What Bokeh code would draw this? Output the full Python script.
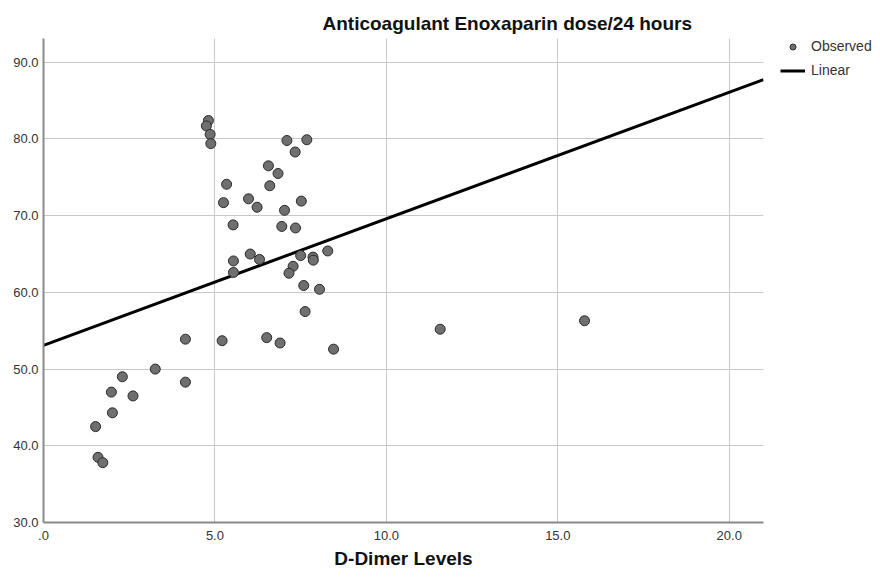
from bokeh.plotting import figure
from bokeh.models import Legend, LegendItem, Range1d, FixedTicker
from bokeh.layouts import row
from bokeh.embed import file_html
from bokeh.resources import INLINE

# ---- data ----
d_dimer = [4.81, 4.75, 4.86, 4.88, 7.10, 7.68, 7.34, 6.56, 6.84, 6.60,
           5.34, 5.25, 5.98, 6.23, 7.03, 7.52, 5.53, 6.95, 7.35,
           5.54, 6.03, 6.30, 5.54, 7.50, 7.86, 7.87, 8.29, 7.28, 7.16,
           7.59, 8.05, 7.63, 5.21, 6.51, 6.90, 8.46,
           4.14, 3.26, 4.14, 2.30, 1.98, 2.61, 2.01, 1.52, 1.59, 1.73,
           11.57, 15.78]
enox_dose = [82.4, 81.7, 80.6, 79.4, 79.8, 79.9, 78.3, 76.5, 75.5, 73.9,
             74.1, 71.7, 72.2, 71.1, 70.7, 71.9, 68.8, 68.6, 68.4,
             64.1, 65.0, 64.3, 62.6, 64.8, 64.6, 64.2, 65.4, 63.4, 62.5,
             60.9, 60.4, 57.5, 53.7, 54.1, 53.4, 52.6,
             53.9, 50.0, 48.3, 49.0, 47.0, 46.5, 44.3, 42.5, 38.5, 37.8,
             55.2, 56.3]

fit_intercept = 53.1
fit_slope = 1.65
fit_x = [0.0, 21.0]
fit_y = [fit_intercept + fit_slope * v for v in fit_x]

x_ticks = [0, 5, 10, 15, 20]
x_tick_labels = [".0", "5.0", "10.0", "15.0", "20.0"]
y_ticks = [30, 40, 50, 60, 70, 80, 90]
y_tick_labels = ["30.0", "40.0", "50.0", "60.0", "70.0", "80.0", "90.0"]

FONT = "Liberation Sans"
PT_FILL = "#6f6f6f"
PT_LINE = "#2a2a2a"

p = figure(width=770, height=571, x_range=Range1d(0, 21.0), y_range=Range1d(30, 93.1),
           output_backend="svg", toolbar_location=None,
           min_border_left=43, min_border_right=7, min_border_top=38, min_border_bottom=49)
p.outline_line_color = None
p.background_fill_color = "white"
p.border_fill_color = "white"

# title
p.title.text = "Anticoagulant Enoxaparin dose/24 hours"
p.title.text_font = FONT
p.title.text_font_size = "19px"
p.title.text_font_style = "bold"
p.title.text_color = "#111111"
p.title.align = "left"
p.title.offset = 279
p.title.standoff = 9

# axes
for ax in (p.xaxis[0], p.yaxis[0]):
    ax.axis_line_color = "#8a8a8a"
    ax.axis_line_width = 2
    ax.major_tick_line_color = None
    ax.minor_tick_line_color = None
    ax.major_tick_out = 0
    ax.major_tick_in = 0
    ax.minor_tick_out = 0
    ax.major_label_text_font = FONT
    ax.major_label_text_font_size = "13px"
    ax.major_label_text_color = "#333333"

p.xaxis.ticker = FixedTicker(ticks=x_ticks)
p.xaxis.major_label_overrides = dict(zip(x_ticks, x_tick_labels))
p.yaxis.ticker = FixedTicker(ticks=y_ticks)
p.yaxis.major_label_overrides = dict(zip(y_ticks, y_tick_labels))
p.xaxis.major_label_standoff = 8
p.yaxis.major_label_standoff = 5

p.xaxis.axis_label = "D-Dimer Levels"
p.xaxis.axis_label_text_font = FONT
p.xaxis.axis_label_text_font_size = "19px"
p.xaxis.axis_label_text_font_style = "bold"
p.xaxis.axis_label_text_color = "#111111"
p.xaxis.axis_label_standoff = 5

# grid
p.xgrid.grid_line_color = "#c8c8c8"
p.ygrid.grid_line_color = "#c8c8c8"
p.xgrid.grid_line_width = 1
p.ygrid.grid_line_width = 1

# fit line and points
p.line(fit_x, fit_y, line_color="black", line_width=3)
p.scatter(d_dimer, enox_dose, size=10, fill_color=PT_FILL, line_color=PT_LINE, line_width=1)

# ---- legend panel (separate narrow figure to the right; its frame aligns with the main frame) ----
lf = figure(width=102, height=571, x_range=Range1d(-100, -99), y_range=Range1d(-100, -99),
            output_backend="svg", toolbar_location=None,
            x_axis_location=None, y_axis_location=None,
            min_border_left=0, min_border_right=0, min_border_top=0, min_border_bottom=0)
lf.outline_line_color = None
lf.xgrid.visible = False
lf.ygrid.visible = False
lf.title.text = ""
lf_pts = lf.scatter(d_dimer, enox_dose, size=8, fill_color=PT_FILL, line_color=PT_LINE, line_width=1)
lf_line = lf.line(fit_x, fit_y, line_color="black", line_width=3)

legend = Legend(items=[LegendItem(label="Observed", renderers=[lf_pts]),
                       LegendItem(label="Linear", renderers=[lf_line])],
                location=(10, 444))
legend.border_line_color = None
legend.background_fill_alpha = 0
legend.padding = 0
legend.margin = 0
legend.spacing = 8
legend.glyph_width = 25
legend.glyph_height = 15
legend.label_height = 15
legend.label_standoff = 6
legend.label_text_font = FONT
legend.label_text_font_size = "14px"
legend.label_text_color = "#333333"
lf.add_layout(legend)

layout = row(p, lf, spacing=0)
open("out.html", "w").write(file_html(layout, INLINE))
